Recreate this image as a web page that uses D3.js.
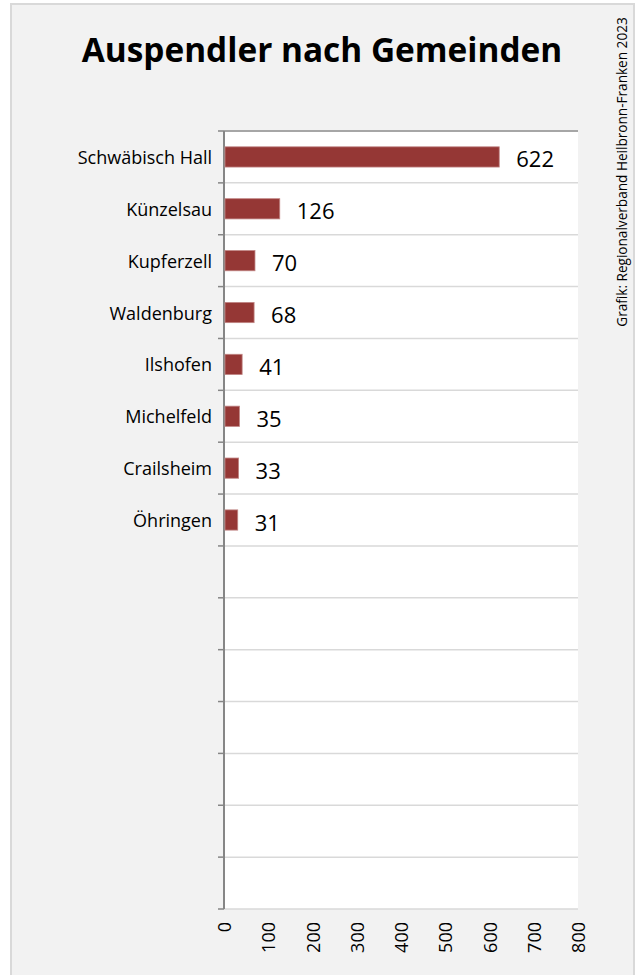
<!DOCTYPE html>
<html>
<head>
<meta charset="utf-8">
<script src="https://cdn.jsdelivr.net/npm/d3@7/dist/d3.min.js"></script>
<style>
  body { margin: 0; background: #ffffff; }
  svg { display: block; }
</style>
</head>
<body>
<div id="chart"></div>
<script>
// data
var categories = ["Schwäbisch Hall", "Künzelsau", "Kupferzell", "Waldenburg", "Ilshofen", "Michelfeld", "Crailsheim", "Öhringen"];
var values = [622, 126, 70, 68, 41, 35, 33, 31];
var xTicks = [0, 100, 200, 300, 400, 500, 600, 700, 800];
var title = "Auspendler nach Gemeinden";
var credit = "Grafik: Regionalverband Heilbronn-Franken 2023";

var width = 637, height = 975;
var slotCount = 15; // the chart reserves 15 rows, only 8 are filled
var font = "'Open Sans', 'DejaVu Sans', sans-serif";

var svg = d3.select("#chart")
  .append("svg")
  .attr("width", width)
  .attr("height", height);

// chart background with border
svg.append("rect")
  .attr("x", 11).attr("y", 4)
  .attr("width", 623).attr("height", 990)
  .attr("fill", "#f2f2f2")
  .attr("stroke", "#d9d9d9")
  .attr("stroke-width", 2);

var plot = { left: 224, right: 578, top: 131, bottom: 909 };

var x = d3.scaleLinear()
  .domain([0, 800])
  .range([plot.left, plot.right]);

var y = d3.scaleBand()
  .domain(d3.range(slotCount))
  .range([plot.top, plot.bottom])
  .padding(0);

// plot area
svg.append("rect")
  .attr("x", plot.left).attr("y", plot.top)
  .attr("width", plot.right - plot.left)
  .attr("height", plot.bottom - plot.top)
  .attr("fill", "#ffffff");

// horizontal gridlines at row boundaries
var bounds = d3.range(slotCount + 1).map(function (i) { return plot.top + i * y.step(); });
svg.selectAll("line.grid")
  .data(bounds)
  .enter()
  .append("line")
  .attr("class", "grid")
  .attr("x1", plot.left).attr("x2", plot.right)
  .attr("y1", function (d) { return d; })
  .attr("y2", function (d) { return d; })
  .attr("stroke", function (d, i) { return i === 0 ? "#a6a6a6" : "#d9d9d9"; })
  .attr("stroke-width", function (d, i) { return i === 0 ? 2 : 1.5; });

// category axis with outside ticks at row boundaries
svg.selectAll("line.tick")
  .data(bounds)
  .enter()
  .append("line")
  .attr("class", "tick")
  .attr("x1", plot.left - 6).attr("x2", plot.left)
  .attr("y1", function (d) { return d; })
  .attr("y2", function (d) { return d; })
  .attr("stroke", "#868686")
  .attr("stroke-width", 1.5);

svg.append("line")
  .attr("x1", plot.left).attr("x2", plot.left)
  .attr("y1", plot.top).attr("y2", plot.bottom)
  .attr("stroke", "#868686")
  .attr("stroke-width", 2);

// bars
var barH = y.bandwidth() * 0.39;
svg.selectAll("rect.bar")
  .data(values)
  .enter()
  .append("rect")
  .attr("class", "bar")
  .attr("x", x(0) + 1)
  .attr("y", function (d, i) { return y(i) + (y.bandwidth() - barH) / 2; })
  .attr("width", function (d) { return x(d) - x(0) - 1; })
  .attr("height", barH)
  .attr("fill", "#953735")
  .attr("stroke", "#c08584")
  .attr("stroke-width", 0.8);

// value labels
svg.selectAll("text.value")
  .data(values)
  .enter()
  .append("text")
  .attr("class", "value")
  .attr("x", function (d) { return x(d) + 17; })
  .attr("y", function (d, i) { return y(i) + y.bandwidth() / 2 + 1.5; })
  .attr("dominant-baseline", "central")
  .attr("font-family", font)
  .attr("font-size", 22)
  .attr("fill", "#000000")
  .text(function (d) { return d; });

// category labels
svg.selectAll("text.cat")
  .data(categories)
  .enter()
  .append("text")
  .attr("class", "cat")
  .attr("x", plot.left - 12)
  .attr("y", function (d, i) { return y(i) + y.bandwidth() / 2; })
  .attr("text-anchor", "end")
  .attr("dominant-baseline", "central")
  .attr("font-family", font)
  .attr("font-size", 18)
  .attr("fill", "#000000")
  .text(function (d) { return d; });

// value axis tick labels, rotated
svg.selectAll("text.xtick")
  .data(xTicks)
  .enter()
  .append("text")
  .attr("class", "xtick")
  .attr("transform", function (d) { return "translate(" + x(d) + ",922) rotate(-90)"; })
  .attr("text-anchor", "end")
  .attr("dominant-baseline", "central")
  .attr("font-family", font)
  .attr("font-size", 18)
  .attr("fill", "#000000")
  .text(function (d) { return d; });

// title
svg.append("text")
  .attr("x", 322)
  .attr("y", 62)
  .attr("text-anchor", "middle")
  .attr("font-family", font)
  .attr("font-weight", "bold")
  .attr("font-size", 33.4)
  .attr("fill", "#000000")
  .text(title);

// credit, vertical on the right
svg.append("text")
  .attr("transform", "translate(621,172) rotate(-90)")
  .attr("text-anchor", "middle")
  .attr("dominant-baseline", "central")
  .attr("font-family", font)
  .attr("font-size", 13.6)
  .attr("fill", "#000000")
  .text(credit);
</script>
</body>
</html>
